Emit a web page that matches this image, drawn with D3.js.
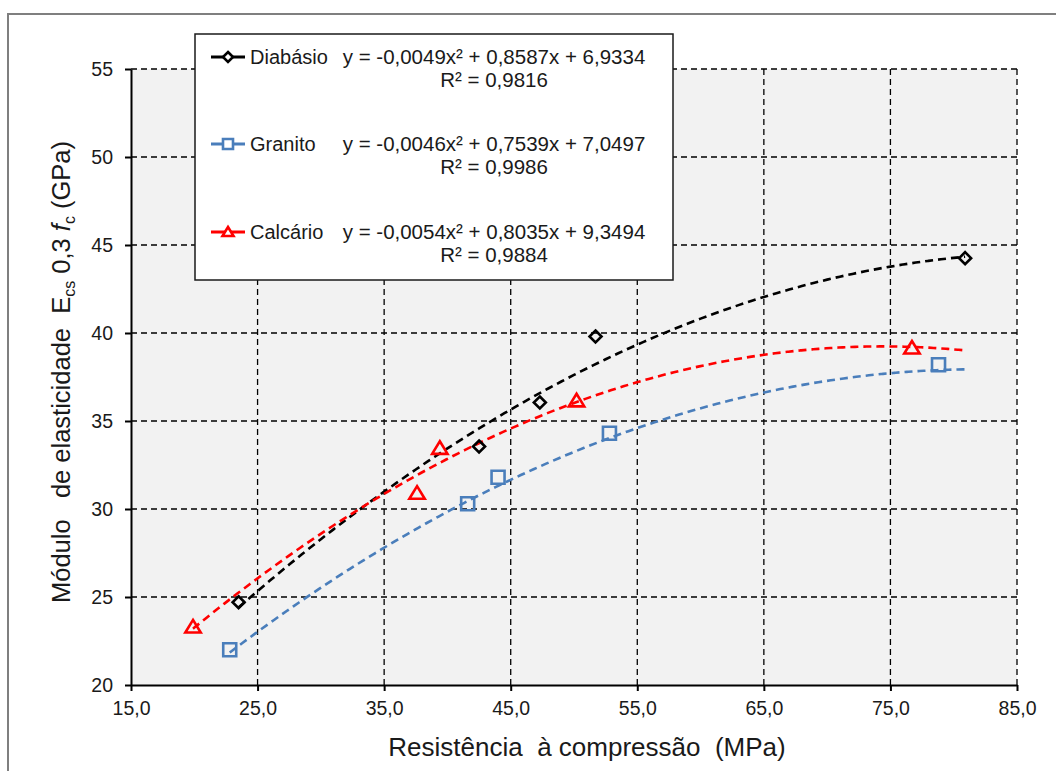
<!DOCTYPE html>
<html>
<head>
<meta charset="utf-8">
<script src="https://cdn.jsdelivr.net/npm/d3@7"></script>
<style>
  body { margin: 0; background: #fff; }
  text { font-family: "Liberation Sans", Arial, sans-serif; fill: #1a1a1a; }
</style>
</head>
<body>
<div id="chart"></div>
<script>
// values
var seriesNames = ["Diabásio", "Granito", "Calcário"];
var seriesColors = ["#000000", "#4a7ebb", "#ff0000"];
var seriesSymbols = ["diamond", "square", "triangle"];

var diabasioX = [23.5, 42.5, 47.3, 51.7, 80.9];
var diabasioY = [24.7, 33.55, 36.05, 39.8, 44.25];
var granitoX = [22.8, 41.6, 44.0, 52.8, 78.8];
var granitoY = [22.0, 30.3, 31.8, 34.3, 38.2];
var calcarioX = [19.9, 37.6, 39.4, 50.2, 76.7];
var calcarioY = [23.3, 30.9, 33.45, 36.15, 39.15];

// trendline coefficients (a, b, c) for y = a*x^2 + b*x + c, as in legend
var diabasioCoef = [-0.0049, 0.8587, 6.9334];
var granitoCoef = [-0.0046, 0.7539, 7.0497];
var calcarioCoef = [-0.0054, 0.8035, 9.3494];

var equations = [
  "y = -0,0049x\u00B2 + 0,8587x + 6,9334",
  "y = -0,0046x\u00B2 + 0,7539x + 7,0497",
  "y = -0,0054x\u00B2 + 0,8035x + 9,3494"
];
var rSquared = ["R\u00B2 = 0,9816", "R\u00B2 = 0,9986", "R\u00B2 = 0,9884"];

var xTicks = [15, 25, 35, 45, 55, 65, 75, 85];
var xTickLabels = ["15,0", "25,0", "35,0", "45,0", "55,0", "65,0", "75,0", "85,0"];
var yTicks = [20, 25, 30, 35, 40, 45, 50, 55];
var yTickLabels = ["20", "25", "30", "35", "40", "45", "50", "55"];

var W = 1056, H = 771;
var plotL = 131, plotR = 1017, plotT = 69, plotB = 685;

var svg = d3.select("#chart").append("svg")
  .attr("width", W)
  .attr("height", H);

// outer frame
svg.append("rect")
  .attr("x", 8).attr("y", 14)
  .attr("width", W).attr("height", H)
  .attr("fill", "#fff")
  .attr("stroke", "#7f7f7f")
  .attr("stroke-width", 2);

var x = d3.scaleLinear().domain([15, 85]).range([plotL, plotR]);
var y = d3.scaleLinear().domain([20, 55]).range([plotB, plotT]);

svg.append("rect")
  .attr("x", plotL).attr("y", plotT)
  .attr("width", plotR - plotL).attr("height", plotB - plotT)
  .attr("fill", "#f2f2f2");

// dashed grid
var grid = svg.append("g")
  .attr("stroke", "#000")
  .attr("stroke-width", 1.3)
  .attr("stroke-dasharray", "6,4");

grid.selectAll(".vg")
  .data(xTicks.slice(1))
  .enter()
  .append("line")
  .attr("x1", function(d){ return x(d); })
  .attr("x2", function(d){ return x(d); })
  .attr("y1", plotT)
  .attr("y2", plotB);

grid.selectAll(".hg")
  .data(yTicks.slice(1))
  .enter()
  .append("line")
  .attr("x1", plotL)
  .attr("x2", plotR)
  .attr("y1", function(d){ return y(d); })
  .attr("y2", function(d){ return y(d); });

// axes
var xAxis = d3.axisBottom(x)
  .tickValues(xTicks)
  .tickFormat(function(d, i){ return xTickLabels[i]; })
  .tickSize(6)
  .tickPadding(10)
  .tickSizeOuter(0);

var yAxis = d3.axisLeft(y)
  .tickValues(yTicks)
  .tickFormat(function(d, i){ return yTickLabels[i]; })
  .tickSize(6)
  .tickPadding(12)
  .tickSizeOuter(0);

var gx = svg.append("g")
  .attr("transform", "translate(0," + plotB + ")")
  .call(xAxis);
var gy = svg.append("g")
  .attr("transform", "translate(" + plotL + ",0)")
  .call(yAxis);

[gx, gy].forEach(function(g){
  g.attr("font-size", 19.5).attr("font-family", "'Liberation Sans', Arial, sans-serif");
  g.select(".domain").attr("stroke", "#000").attr("stroke-width", 2);
  g.selectAll(".tick line").attr("stroke", "#000").attr("stroke-width", 2);
  g.selectAll(".tick text").attr("fill", "#1a1a1a");
});

// axis titles
svg.append("text")
  .attr("x", 587)
  .attr("y", 756)
  .attr("text-anchor", "middle")
  .attr("font-size", 26)
  .style("white-space", "pre")
  .text("Resistência  à compressão  (MPa)");

var yt = svg.append("text")
  .attr("transform", "translate(70,372) rotate(-90)")
  .attr("text-anchor", "middle")
  .attr("font-size", 25.5)
  .style("white-space", "pre");
yt.append("tspan").text("Módulo   de elasticidade  E");
yt.append("tspan").attr("font-size", 16).attr("dy", 5).text("cs");
yt.append("tspan").attr("dy", -5).text(" 0,3 ");
yt.append("tspan").attr("font-style", "italic").text("f");
yt.append("tspan").attr("font-size", 16).attr("dy", 5).text("c");
yt.append("tspan").attr("dy", -5).text(" (GPa)");

// series
var allSeries = [
  { name: seriesNames[0], xs: diabasioX, ys: diabasioY, coef: diabasioCoef },
  { name: seriesNames[1], xs: granitoX, ys: granitoY, coef: granitoCoef },
  { name: seriesNames[2], xs: calcarioX, ys: calcarioY, coef: calcarioCoef }
];
var maxX = d3.max(allSeries, function(s){ return d3.max(s.xs); });

var line = d3.line()
  .x(function(d){ return x(d[0]); })
  .y(function(d){ return y(d[1]); })
  .curve(d3.curveBasis);

function symbolPath(kind, size){
  var s = size / 2;
  if (kind == "diamond") return "M0," + (-s) + "L" + s + ",0L0," + s + "L" + (-s) + ",0Z";
  if (kind == "square") return "M" + (-s) + "," + (-s) + "H" + s + "V" + s + "H" + (-s) + "Z";
  return "M0," + (-s) + "L" + (s * 1.1) + "," + (s * 0.8) + "L" + (-s * 1.1) + "," + (s * 0.8) + "Z";
}

allSeries.forEach(function(s, k){
  var x0 = d3.min(s.xs);
  var pts = d3.range(x0, maxX, 0.5).concat([maxX]).map(function(v){
    return [v, s.coef[0] * v * v + s.coef[1] * v + s.coef[2]];
  });
  svg.append("path")
    .datum(pts)
    .attr("d", line)
    .attr("fill", "none")
    .attr("stroke", seriesColors[k])
    .attr("stroke-width", 2.6)
    .attr("stroke-dasharray", "8,5");
});

allSeries.forEach(function(s, k){
  var sizes = [12, 13, 14];
  svg.selectAll(".m" + k)
    .data(s.xs)
    .enter()
    .append("path")
    .attr("transform", function(d, i){ return "translate(" + x(d) + "," + y(s.ys[i]) + ")"; })
    .attr("d", symbolPath(seriesSymbols[k], sizes[k]))
    .attr("fill", "none")
    .attr("stroke", seriesColors[k])
    .attr("stroke-width", 2.6);
});

// legend
var lg = svg.append("g");
lg.append("rect")
  .attr("x", 195).attr("y", 34)
  .attr("width", 478).attr("height", 246)
  .attr("fill", "#fff")
  .attr("stroke", "#1a1a1a")
  .attr("stroke-width", 1.5);

var rowY = [57, 144, 232];
allSeries.forEach(function(s, k){
  var ry = rowY[k];
  lg.append("line")
    .attr("x1", 211).attr("x2", 245)
    .attr("y1", ry).attr("y2", ry)
    .attr("stroke", seriesColors[k])
    .attr("stroke-width", 3);
  lg.append("path")
    .attr("transform", "translate(228," + ry + ")")
    .attr("d", symbolPath(seriesSymbols[k], 10))
    .attr("fill", "#fff")
    .attr("stroke", seriesColors[k])
    .attr("stroke-width", 2.6);
  lg.append("text")
    .attr("x", 250).attr("y", ry + 7)
    .attr("font-size", 20)
    .text(s.name);
  lg.append("text")
    .attr("x", 494).attr("y", ry + 7)
    .attr("text-anchor", "middle")
    .attr("font-size", 20.5)
    .text(equations[k]);
  lg.append("text")
    .attr("x", 494).attr("y", ry + 30)
    .attr("text-anchor", "middle")
    .attr("font-size", 20.5)
    .text(rSquared[k]);
});
</script>
</body>
</html>
